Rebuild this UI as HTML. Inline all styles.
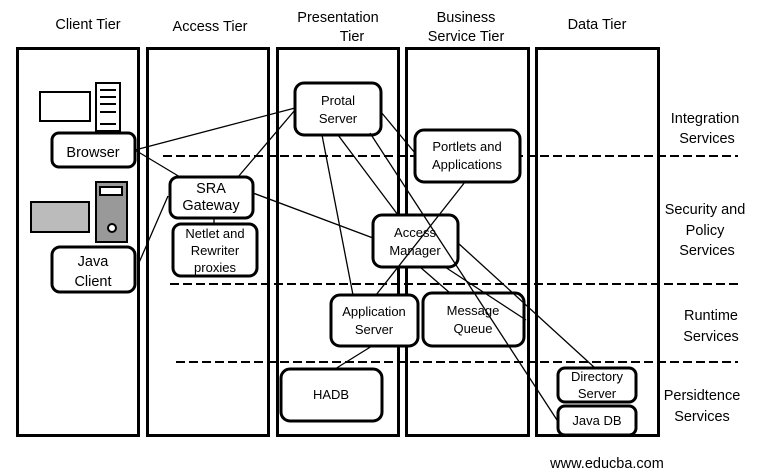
<!DOCTYPE html>
<html><head><style>
html,body{margin:0;padding:0;background:#fff;width:766px;height:476px;overflow:hidden}
svg{display:block}
text{font-family:"Liberation Sans",sans-serif;font-size:13px;fill:#000}
.big{font-size:14.5px}
</style></head><body>
<svg width="766" height="476" viewBox="0 0 766 476" xmlns="http://www.w3.org/2000/svg">
<g fill="none" stroke="#000" stroke-width="3">
<rect x="17.5" y="48.5" width="121" height="387"/>
<rect x="147.5" y="48.5" width="121" height="387"/>
<rect x="277.5" y="48.5" width="121" height="387"/>
<rect x="406.5" y="48.5" width="122" height="387"/>
<rect x="536.5" y="48.5" width="122" height="387"/>
</g>
<g stroke="#000" stroke-width="2" stroke-dasharray="9,4">
<line x1="163" y1="156" x2="738" y2="156"/>
<line x1="170" y1="284" x2="738" y2="284"/>
<line x1="176" y1="362" x2="738" y2="362"/>
</g>
<g stroke="#000" stroke-width="2">
<rect x="40" y="92" width="50" height="29" fill="#fff"/>
<rect x="96" y="83" width="24" height="48" fill="#fff"/>
<line x1="100" y1="90" x2="116" y2="90"/><line x1="100" y1="97" x2="116" y2="97"/><line x1="100" y1="104" x2="116" y2="104"/><line x1="100" y1="112" x2="116" y2="112"/><line x1="100" y1="124" x2="116" y2="124"/>
<rect x="31" y="202" width="58" height="30" fill="#bbb"/>
<rect x="96" y="182" width="31" height="60" fill="#999"/>
<rect x="100" y="187" width="22" height="8" fill="#fff"/>
<circle cx="112" cy="228" r="4" fill="#fff"/>
</g>
<g fill="#fff" stroke="#000" stroke-width="3">
<rect x="52" y="133" width="83" height="34" rx="7"/>
<rect x="52" y="247" width="83" height="45" rx="8"/>
<rect x="170" y="177" width="83" height="41" rx="8"/>
<rect x="173" y="224" width="84" height="52" rx="8"/>
<rect x="295" y="83" width="86" height="52" rx="9"/>
<rect x="415" y="130" width="105" height="52" rx="9"/>
<rect x="373" y="215" width="85" height="52" rx="9"/>
<rect x="331" y="295" width="87" height="51" rx="9"/>
<rect x="423" y="293" width="101" height="53" rx="9"/>
<rect x="281" y="369" width="101" height="52" rx="9"/>
<rect x="558" y="368" width="78" height="34" rx="7"/>
<rect x="558" y="406" width="78" height="29" rx="7"/>
</g>
<g fill="none" stroke="#000" stroke-width="1.3">
<line x1="135" y1="150" x2="295" y2="108"/>
<line x1="135" y1="150" x2="180" y2="177"/>
<line x1="238" y1="177" x2="295" y2="110"/>
<line x1="253" y1="193" x2="373" y2="238"/>
<line x1="138" y1="265" x2="168" y2="196"/>
<line x1="381" y1="112" x2="415" y2="153"/>
<line x1="322" y1="135" x2="353" y2="295"/>
<line x1="338" y1="135" x2="398" y2="215"/>
<line x1="370" y1="133" x2="557" y2="420"/>
<line x1="465" y1="182" x2="376" y2="295"/>
<line x1="420" y1="267" x2="450" y2="293"/>
<line x1="458" y1="243" x2="595" y2="368"/>
<line x1="445" y1="267" x2="526" y2="320"/>
<line x1="372" y1="346" x2="335" y2="369"/>
<line x1="214" y1="218" x2="214" y2="224"/>
</g>
<g text-anchor="middle">
<text class="big" x="88" y="29">Client Tier</text>
<text class="big" x="210" y="31">Access Tier</text>
<text class="big" x="338" y="22">Presentation</text>
<text class="big" x="352" y="41">Tier</text>
<text class="big" x="466" y="22">Business</text>
<text class="big" x="466" y="41">Service Tier</text>
<text class="big" x="597" y="29">Data Tier</text>
<text class="big" x="705" y="123">Integration</text>
<text class="big" x="707" y="143">Services</text>
<text class="big" x="705" y="214">Security and</text>
<text class="big" x="705" y="235">Policy</text>
<text class="big" x="707" y="255">Services</text>
<text class="big" x="711" y="320">Runtime</text>
<text class="big" x="711" y="341">Services</text>
<text class="big" x="702" y="400">Persidtence</text>
<text class="big" x="702" y="421">Services</text>
<text class="big" x="93" y="157">Browser</text>
<text class="big" x="93" y="266">Java</text>
<text class="big" x="93" y="286">Client</text>
<text class="big" x="211" y="193">SRA</text>
<text class="big" x="211" y="210">Gateway</text>
<text x="215" y="238">Netlet and</text>
<text x="215" y="255">Rewriter</text>
<text x="215" y="272">proxies</text>
<text x="338" y="105">Protal</text>
<text x="338" y="123">Server</text>
<text x="467" y="151">Portlets and</text>
<text x="467" y="169">Applications</text>
<text x="415" y="237">Access</text>
<text x="415" y="255">Manager</text>
<text x="374" y="316">Application</text>
<text x="374" y="334">Server</text>
<text x="473" y="315">Message</text>
<text x="473" y="333">Queue</text>
<text x="331" y="399">HADB</text>
<text x="597" y="381">Directory</text>
<text x="597" y="398">Server</text>
<text x="597" y="425">Java DB</text>
<text class="big" x="607" y="468">www.educba.com</text>
</g>
</svg>
</body></html>
